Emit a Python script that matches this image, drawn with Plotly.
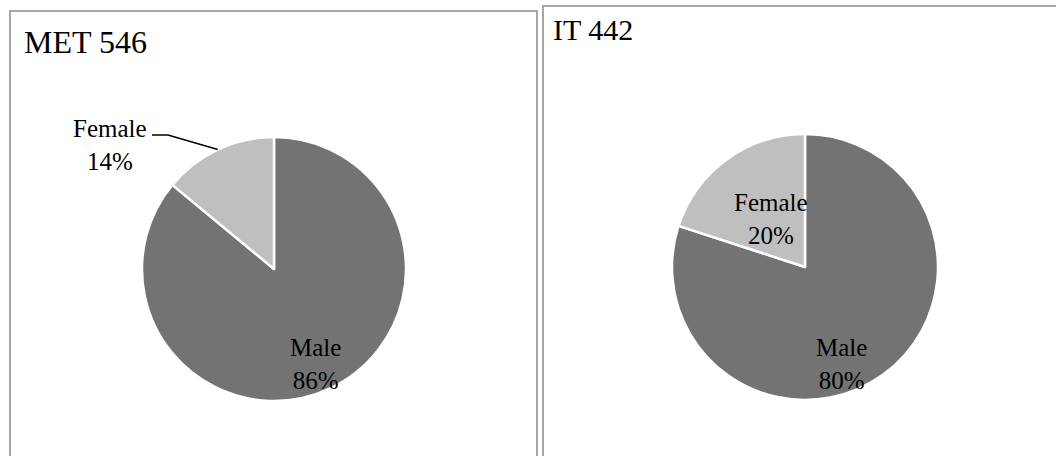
import math
import plotly.graph_objects as go

W, H = 1056, 456

labels = ["Male", "Female"]
met546 = [86, 14]
it442 = [80, 20]
titles = ["MET 546", "IT 442"]
colors = ["#737373", "#bfbfbf"]

FONT = "Liberation Serif, Times New Roman, serif"

def px_dom(x0, x1, y0, y1):
    return dict(x=[x0 / W, x1 / W], y=[1 - y1 / H, 1 - y0 / H])

def pct(vals, i):
    return f"{round(100 * vals[i] / sum(vals))}%"

fig = go.Figure()

for vals, dom in [(met546, px_dom(142, 406, 137, 401)), (it442, px_dom(672, 938, 134, 400))]:
    fig.add_trace(go.Pie(
        labels=labels, values=vals, sort=False, direction="clockwise", rotation=0,
        marker=dict(colors=colors, line=dict(color="white", width=2.5)),
        textinfo="none",
        domain=dom, showlegend=False, hoverinfo="label+percent",
    ))

shapes = []
border = dict(color="#a6a6a6", width=2)
shapes.append(dict(type="path", xref="paper", yref="paper",
                   path=f"M {10/W},{-0.05} L {10/W},{1-11/H} L {537/W},{1-11/H} L {537/W},{-0.05}",
                   line=border))
shapes.append(dict(type="path", xref="paper", yref="paper",
                   path=f"M {543/W},{-0.05} L {543/W},{1-6/H} L {1.05},{1-6/H}",
                   line=border))

# leader line for left Female label, ending at slice mid-angle on pie edge
cx, cy, r = 274, 269, 132
frac_mid = (met546[0] + met546[1] / 2) / sum(met546)
ang = 2 * math.pi * frac_mid
ex, ey = cx + r * math.sin(ang), cy - r * math.cos(ang)
shapes.append(dict(type="path", xref="paper", yref="paper",
                   path=f"M {152/W},{1-135/H} L {168/W},{1-135/H} L {ex/W},{1-ey/H}",
                   line=dict(color="black", width=1.5)))

def ann(text, x, y, size=25):
    return dict(text=text, x=x / W, y=1 - y / H, xref="paper", yref="paper",
                xanchor="center", yanchor="middle", showarrow=False,
                font=dict(family=FONT, size=size, color="black"))

annotations = [
    dict(text=titles[0], x=22 / W, y=1 - 42 / H, xref="paper", yref="paper",
         xanchor="left", yanchor="middle", showarrow=False,
         font=dict(family=FONT, size=32, color="black")),
    dict(text=titles[1], x=551 / W, y=1 - 29 / H, xref="paper", yref="paper",
         xanchor="left", yanchor="middle", showarrow=False,
         font=dict(family=FONT, size=30, color="black")),
    ann(f"{labels[1]}<br>{pct(met546, 1)}", 110, 145),
    ann(f"{labels[0]}<br>{pct(met546, 0)}", 315, 364),
    ann(f"{labels[1]}<br>{pct(it442, 1)}", 771, 219),
    ann(f"{labels[0]}<br>{pct(it442, 0)}", 841, 364),
]

fig.update_layout(
    width=W, height=H, margin=dict(l=0, r=0, t=0, b=0),
    paper_bgcolor="white", plot_bgcolor="white",
    shapes=shapes, annotations=annotations,
)

fig.write_html("out.html")
